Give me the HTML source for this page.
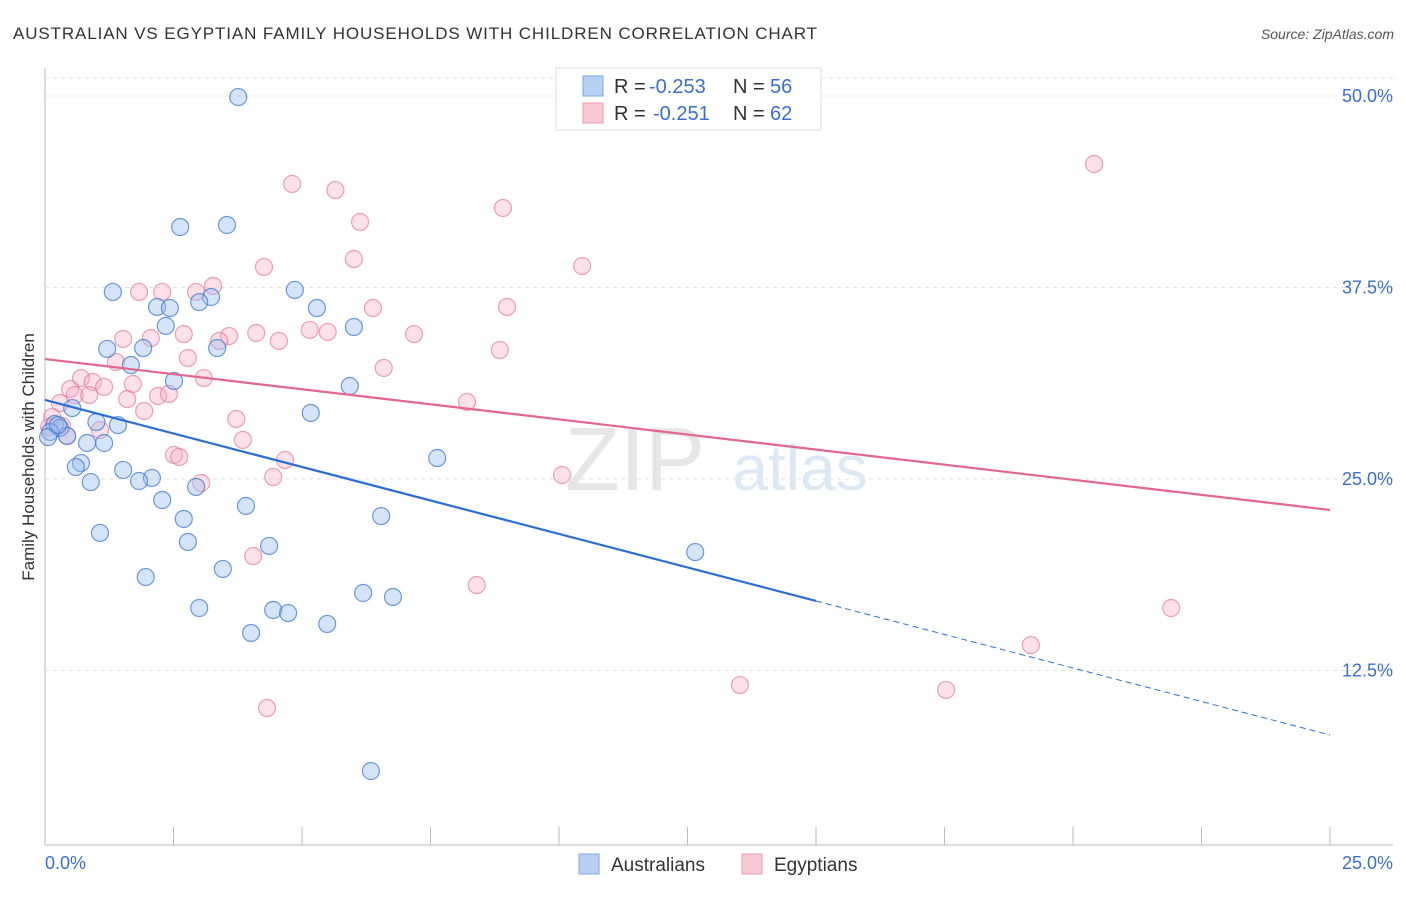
<!DOCTYPE html>
<html><head><meta charset="utf-8"><style>
body{margin:0;background:#fff;font-family:"Liberation Sans",sans-serif}
svg text{font-family:"Liberation Sans",sans-serif}
</style></head><body>
<svg id="c" width="1406" height="892" xmlns="http://www.w3.org/2000/svg">
<text x="13" y="39" font-size="17" fill="#333" textLength="804">AUSTRALIAN VS EGYPTIAN FAMILY HOUSEHOLDS WITH CHILDREN CORRELATION CHART</text>
<text x="1394" y="39" font-size="14" fill="#555" font-style="italic" text-anchor="end">Source: ZipAtlas.com</text>
<text x="34" y="457" font-size="17" fill="#333" text-anchor="middle" transform="rotate(-90 34 457)">Family Households with Children</text>
<g id="grid"></g>
<text x="635" y="490" font-size="90" fill="#e6e6e6" font-family="Liberation Serif" text-anchor="middle">ZIP</text>
<text x="800" y="490" font-size="64" fill="#dde8f5" text-anchor="middle">atlas</text>
<g id="pts"></g>
<g id="lines"></g>
<g>
<rect x="556" y="68" width="265" height="62" fill="#fff" stroke="#ddd"/>
<rect x="583" y="76" width="20" height="20" fill="#b8d1f3" stroke="#7aa6e6"/>
<rect x="583" y="103" width="20" height="20" fill="#f9c9d6" stroke="#ec9ab2"/>
<text x="614" y="93" font-size="20" fill="#333">R =</text>
<text x="649" y="93" font-size="20" fill="#3a6fd1">-0.253</text>
<text x="733" y="93" font-size="20" fill="#333">N =</text>
<text x="770" y="93" font-size="20" fill="#3a6fd1">56</text>
<text x="614" y="120" font-size="20" fill="#333">R =</text>
<text x="653" y="120" font-size="20" fill="#3a6fd1">-0.251</text>
<text x="733" y="120" font-size="20" fill="#333">N =</text>
<text x="770" y="120" font-size="20" fill="#3a6fd1">62</text>
</g>
<g>
<rect x="579" y="854" width="20" height="20" fill="#b8d1f3" stroke="#7aa6e6"/>
<text x="611" y="871" font-size="19" fill="#333">Australians</text>
<rect x="742" y="854" width="20" height="20" fill="#f9c9d6" stroke="#ec9ab2"/>
<text x="774" y="871" font-size="19" fill="#333">Egyptians</text>
</g>
</svg>
<script>
const yTicks=[12.5,25,37.5,50];
const yTickLabels=["12.5%","25.0%","37.5%","50.0%"];
const ausX=[3.76,2.63,3.54,1.32,4.86,2.18,2.43,3.23,3.0,5.29,2.35,6.01,1.21,1.91,3.35,1.67,2.51,5.93,5.17,0.53,1.0,1.42,0.19,0.29,0.43,0.82,1.15,7.63,0.7,0.6,1.52,2.08,1.83,0.89,2.94,2.28,3.91,6.54,2.7,1.07,2.78,4.36,12.65,3.46,1.96,6.19,6.77,3.0,4.44,4.73,5.49,4.01,6.34,0.1,0.06,0.25];
const ausY=[49.93,41.45,41.58,37.21,37.34,36.23,36.16,36.88,36.55,36.16,34.99,34.92,33.49,33.55,33.55,32.44,31.40,31.07,29.31,29.63,28.72,28.52,28.59,28.33,27.81,27.35,27.35,26.37,26.04,25.78,25.59,25.07,24.87,24.80,24.48,23.63,23.24,22.58,22.39,21.48,20.89,20.63,20.23,19.13,18.60,17.56,17.30,16.58,16.45,16.25,15.54,14.95,5.94,28.07,27.74,28.52];
const egyX=[20.41,4.81,5.65,6.13,8.91,6.01,4.26,10.45,1.83,2.28,3.27,2.94,6.38,8.99,4.11,5.15,5.5,7.18,3.58,4.55,1.52,2.06,2.7,3.39,2.78,8.85,1.38,6.59,3.09,0.7,0.93,0.49,1.71,1.15,0.58,0.86,1.6,2.2,2.41,0.29,1.93,8.21,3.72,0.14,1.07,0.08,3.85,2.51,2.61,4.67,3.04,4.44,10.06,4.05,8.4,21.91,19.18,13.52,17.53,4.32,0.43,0.33];
const egyY=[45.56,44.26,43.86,41.78,42.69,39.36,38.84,38.90,37.21,37.21,37.60,37.21,36.16,36.23,34.53,34.73,34.60,34.46,34.33,34.01,34.14,34.20,34.46,34.01,32.90,33.42,32.64,32.25,31.59,31.59,31.33,30.87,31.20,31.01,30.48,30.48,30.22,30.42,30.55,29.96,29.44,30.03,28.92,29.05,28.20,28.39,27.55,26.57,26.44,26.24,24.74,25.13,25.26,19.97,18.08,16.58,14.16,11.55,11.23,10.05,27.81,28.46];
const ausTrend=[30.16,8.29];
const egyTrend=[32.83,22.98];
const NS="http://www.w3.org/2000/svg";
const X=v=>45+v*51.4, Y=v=>862-v*15.32;
function el(t,a,p){const e=document.createElementNS(NS,t);for(const k in a)e.setAttribute(k,a[k]);p.appendChild(e);return e;}
const svg=document.getElementById('c'),grid=document.getElementById('grid'),pts=document.getElementById('pts'),lines=document.getElementById('lines');
el('line',{x1:45,y1:68,x2:45,y2:845,stroke:'#bbb'},grid);
el('line',{x1:45,y1:845,x2:1393,y2:845,stroke:'#bbb'},grid);
el('line',{x1:45,y1:78,x2:1393,y2:78,stroke:'#e2e2e2','stroke-dasharray':'4,4'},grid);
yTicks.forEach((t,i)=>{
 const g=el('line',{x1:45,y1:Y(t),x2:1393,y2:Y(t),stroke:'#e2e2e2','stroke-dasharray':'4,4'},grid);
 
 
 const tx=el('text',{x:1393,y:Y(t)+6,'font-size':18,fill:'#3a6fd1','text-anchor':'end'},svg);
 tx.textContent=yTickLabels[i];
 
 
});
for(let i=0;i<=10;i++){const l=el('line',{x1:X(i*2.5),y1:827,x2:X(i*2.5),y2:845,stroke:'#bbb'},grid);
 
 }
const x0=el('text',{x:45,y:869,'font-size':18,fill:'#3a6fd1'},svg);x0.textContent='0.0%';


const x1=el('text',{x:1393,y:869,'font-size':18,fill:'#3a6fd1','text-anchor':'end'},svg);x1.textContent='25.0%';


egyX.forEach((v,i)=>{const c=el('circle',{cx:X(v),cy:Y(egyY[i]),r:8.5,fill:'rgba(246,168,192,0.35)',stroke:'rgba(232,120,155,0.7)','stroke-width':1.2},pts);
 
 });
ausX.forEach((v,i)=>{const c=el('circle',{cx:X(v),cy:Y(ausY[i]),r:8.5,fill:'rgba(150,190,240,0.4)',stroke:'rgba(60,120,210,0.75)','stroke-width':1.2},pts);
 
 });
const by=x=>ausTrend[0]+(ausTrend[1]-ausTrend[0])*x/25;
const a1=el('line',{x1:X(0),y1:Y(by(0)),x2:X(15),y2:Y(by(15)),stroke:'#2a6fd6','stroke-width':2.2},lines);


const a2=el('line',{x1:X(15),y1:Y(by(15)),x2:X(25),y2:Y(by(25)),stroke:'#2a6fd6','stroke-width':1,'stroke-dasharray':'6,4'},lines);


const e1=el('line',{x1:X(0),y1:Y(egyTrend[0]),x2:X(25),y2:Y(egyTrend[1]),stroke:'#e46690','stroke-width':2.2},lines);


</script>
</body></html>
